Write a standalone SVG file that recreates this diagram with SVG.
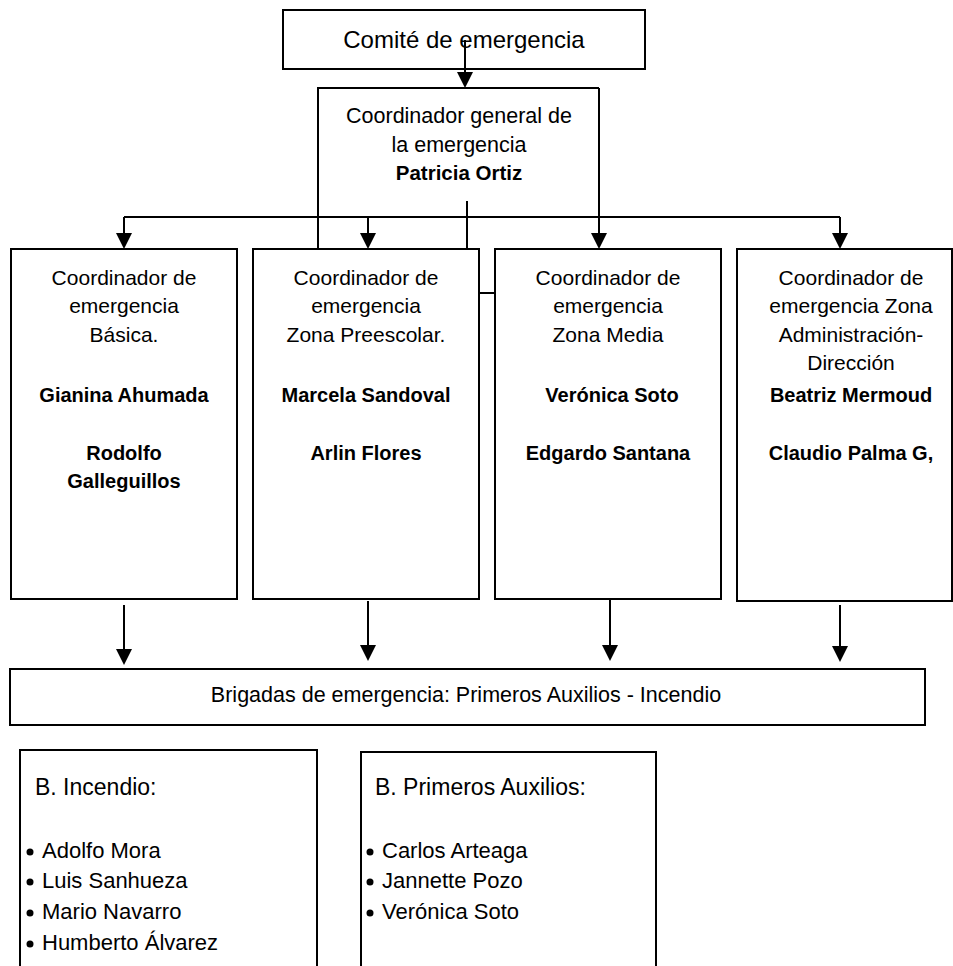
<svg xmlns="http://www.w3.org/2000/svg" width="953" height="966" viewBox="0 0 953 966">
<style>
.box{fill:none;stroke:#000;stroke-width:2}
.ln{fill:none;stroke:#000;stroke-width:2}
.arr{fill:none;stroke:#000;stroke-width:2;marker-end:url(#ah)}
text{font-family:"Liberation Sans",Arial,sans-serif;fill:#000}
.c{text-anchor:middle}
.n{font-size:21px}
.b{font-size:20px;font-weight:bold}
.l{font-size:22px}
.h{font-size:23px}
</style>
<defs>
<marker id="ah" viewBox="0 0 16 16" markerWidth="16" markerHeight="16" refX="14" refY="8" orient="auto" markerUnits="userSpaceOnUse">
<path d="M0,0 L16,8 L0,16 z" fill="#000"/>
</marker>
</defs>
<rect width="953" height="966" fill="#fff"/>

<g id="comite">
<rect class="box" x="283" y="10" width="362" height="59"/>
<text class="c" x="464" y="48" font-size="24">Comité de emergencia</text>
</g>

<g id="coord-general">
<path class="box" d="M318,249 V88 H599"/>
<text class="c" x="459" y="123" font-size="21.5">Coordinador general de</text>
<text class="c" x="459" y="152" font-size="21.5">la emergencia</text>
<text class="c" x="459" y="180" font-size="20.5" font-weight="bold">Patricia Ortiz</text>
</g>

<g id="coord-basica">
<rect class="box" x="11" y="249" width="226" height="350"/>
<text class="c n" x="124" y="285">Coordinador de</text>
<text class="c n" x="124" y="313">emergencia</text>
<text class="c n" x="124" y="342">Básica.</text>
<text class="c b" x="124" y="402">Gianina Ahumada</text>
<text class="c b" x="124" y="460">Rodolfo</text>
<text class="c b" x="124" y="488">Galleguillos</text>
</g>

<g id="coord-preescolar">
<rect class="box" x="253" y="249" width="226" height="350"/>
<text class="c n" x="366" y="285">Coordinador de</text>
<text class="c n" x="366" y="313">emergencia</text>
<text class="c n" x="366" y="342">Zona Preescolar.</text>
<text class="c b" x="366" y="402">Marcela Sandoval</text>
<text class="c b" x="366" y="460">Arlin Flores</text>
</g>

<g id="coord-media">
<rect class="box" x="495" y="249" width="226" height="350"/>
<text class="c n" x="608" y="285">Coordinador de</text>
<text class="c n" x="608" y="313">emergencia</text>
<text class="c n" x="608" y="342">Zona Media</text>
<text class="c b" x="612" y="402">Verónica Soto</text>
<text class="c b" x="608" y="460">Edgardo Santana</text>
</g>

<g id="coord-admin">
<rect class="box" x="737" y="249" width="215" height="352"/>
<text class="c n" x="851" y="285">Coordinador de</text>
<text class="c n" x="851" y="313">emergencia Zona</text>
<text class="c n" x="851" y="342">Administración-</text>
<text class="c n" x="851" y="370">Dirección</text>
<text class="c b" x="851" y="402">Beatriz Mermoud</text>
<text class="c b" x="851" y="460">Claudio Palma G,</text>
</g>

<g id="brigadas">
<rect class="box" x="10" y="669" width="915" height="56"/>
<text class="c" x="466" y="702" font-size="21.5">Brigadas de emergencia: Primeros Auxilios - Incendio</text>
</g>

<g id="b-incendio">
<path class="box" d="M20,967 V750 H317 V967"/>
<text class="h" x="35" y="795">B. Incendio:</text>
<circle cx="30" cy="852" r="3.5"/>
<circle cx="30" cy="882" r="3.5"/>
<circle cx="30" cy="913" r="3.5"/>
<circle cx="30" cy="944" r="3.5"/>
<text class="l" x="42" y="858">Adolfo Mora</text>
<text class="l" x="42" y="888">Luis Sanhueza</text>
<text class="l" x="42" y="919">Mario Navarro</text>
<text class="l" x="42" y="950">Humberto Álvarez</text>
</g>

<g id="b-auxilios">
<path class="box" d="M361,967 V752 H656 V967"/>
<text class="h" x="375" y="795">B. Primeros Auxilios:</text>
<circle cx="370" cy="852" r="3.5"/>
<circle cx="370" cy="882" r="3.5"/>
<circle cx="370" cy="913" r="3.5"/>
<text class="l" x="382" y="858">Carlos Arteaga</text>
<text class="l" x="382" y="888">Jannette Pozo</text>
<text class="l" x="382" y="919">Verónica Soto</text>
</g>

<g id="connectors">
<path class="arr" d="M465,40 V86"/>
<path class="ln" d="M124,217 H840"/>
<path class="arr" d="M124,217 V247"/>
<path class="arr" d="M368,217 V247"/>
<path class="arr" d="M599,88 V247"/>
<path class="arr" d="M840,217 V247"/>
<path class="ln" d="M467,201 V249"/>
<path class="ln" d="M479,293 H495"/>
<path class="arr" d="M124,605 V663"/>
<path class="arr" d="M368,601 V659"/>
<path class="arr" d="M610,599 V659"/>
<path class="arr" d="M840,605 V660"/>
</g>
</svg>
